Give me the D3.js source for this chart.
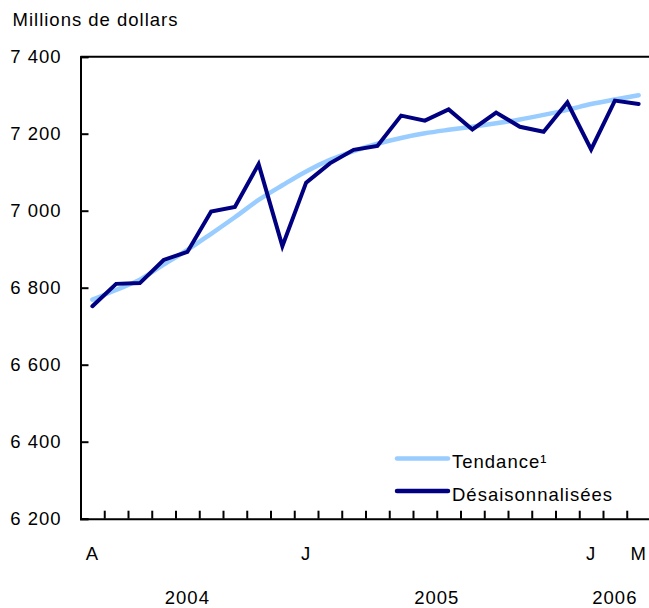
<!DOCTYPE html>
<html><head><meta charset="utf-8">
<script src="https://cdn.jsdelivr.net/npm/d3@7"></script>
<style>
html,body{margin:0;padding:0;background:#fff;}
text{font-family:"Liberation Sans",Arial,Helvetica,sans-serif;font-size:18.5px;letter-spacing:1px;fill:#000;}
</style></head>
<body>
<svg id="chart" width="649" height="608"></svg>
<script>
const months = ["2004-04","2004-05","2004-06","2004-07","2004-08","2004-09","2004-10","2004-11","2004-12",
"2005-01","2005-02","2005-03","2005-04","2005-05","2005-06","2005-07","2005-08","2005-09","2005-10","2005-11","2005-12",
"2006-01","2006-02","2006-03"];
const monthLabels = ["A","","","","","","","","","J","","","","","","","","","","","","J","","M"];
const years = ["2004","2005","2006"];
const yearStart = [0,9,21];
const yearEnd = [9,21,24];
const seasonal = [6752,6810,6812,6872,6893,6998,7010,7121,6908,7073,7123,7158,7168,7247,7234,7263,7211,7255,7218,7205,7281,7159,7286,7277];
const trend = [6769,6794,6821,6860,6898,6940,6983,7028,7066,7102,7132,7155,7174,7189,7201,7210,7218,7227,7237,7249,7262,7277,7289,7300];
const yTicks = [6200,6400,6600,6800,7000,7200,7400];
const seriesNames = ["Tendance\u00B9","D\u00E9saisonnalis\u00E9es"];
const seriesColors = ["#99ccff","#000080"];

(function(){
const svg = d3.select("#chart");
const pL = 80.5, pR = 650.5, pT = 56.7, pB = 518.7;
const xb = d3.scaleLinear().domain([0, months.length]).range([pL, pR]);
const y = d3.scaleLinear().domain([6200, 7400]).range([pB, pT]);
const fmt = d3.formatLocale({decimal:",", thousands:" ", grouping:[3], currency:["","$"]}).format(",d");

svg.append("line").attr("x1", xb(0)).attr("x2", xb(months.length)).attr("y1", y(7400)).attr("y2", y(7400))
  .attr("stroke","#000").attr("stroke-width",2);

const ya = svg.append("g").attr("transform",`translate(${pL},0)`)
  .call(d3.axisLeft(y).tickValues(yTicks).tickSize(-8).tickPadding(19).tickFormat(fmt));
ya.select(".domain").attr("stroke","#000").attr("stroke-width",2);
ya.selectAll(".tick line").attr("stroke","#000").attr("stroke-width",2);
ya.selectAll(".tick text").style("font-size","18.5px").style("font-family","Liberation Sans, Arial, sans-serif").attr("fill","#000");

const xa = svg.append("g").attr("transform",`translate(0,${pB})`)
  .call(d3.axisBottom(xb).tickValues(d3.range(1, months.length)).tickSize(-8).tickFormat(""));
xa.select(".domain").attr("stroke","#000").attr("stroke-width",2);
xa.selectAll(".tick line").attr("stroke","#000").attr("stroke-width",2);

svg.append("g").selectAll("text").data(monthLabels).join("text")
  .attr("x",(d,i)=>xb(i+0.5)).attr("y",560).attr("text-anchor","middle").text(d=>d);
svg.append("g").selectAll("text").data(years).join("text")
  .attr("x",(d,i)=>(xb(yearStart[i])+xb(yearEnd[i]))/2).attr("y",603.5).attr("text-anchor","middle").text(d=>d);

svg.append("text").attr("x",12.5).attr("y",26).text("Millions de dollars");

const line = d3.line().x((d,i)=>xb(i+0.5)).y(d=>y(d));
const lineSmooth = d3.line().x((d,i)=>xb(i+0.5)).y(d=>y(d)).curve(d3.curveMonotoneX);
svg.append("path").datum(trend).attr("d",lineSmooth).attr("fill","none")
  .attr("stroke",seriesColors[0]).attr("stroke-width",4.5).attr("stroke-linecap","round");
svg.append("path").datum(seasonal).attr("d",line).attr("fill","none")
  .attr("stroke",seriesColors[1]).attr("stroke-width",4).attr("stroke-linejoin","miter").attr("stroke-linecap","round");

const legY = [458.5, 491];
const lg = svg.append("g");
seriesNames.forEach((n,i)=>{
  lg.append("line").attr("x1",397).attr("x2",448).attr("y1",legY[i]).attr("y2",legY[i])
    .attr("stroke",seriesColors[i]).attr("stroke-width",4.5).attr("stroke-linecap","round");
  lg.append("text").attr("x",452).attr("y",legY[i]+9.5).text(n);
});
})();
</script>
</body></html>
